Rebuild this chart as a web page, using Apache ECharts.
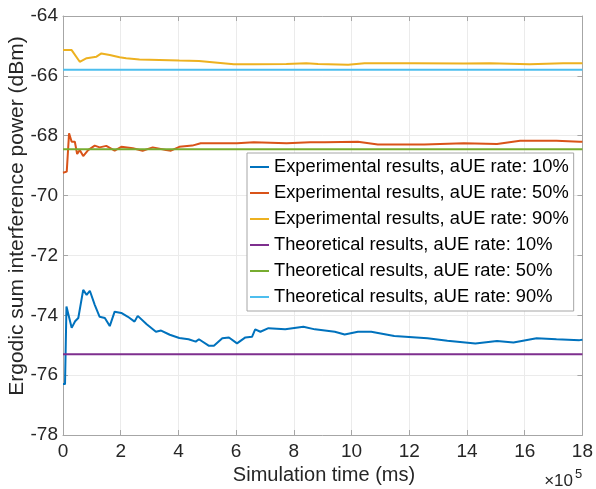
<!DOCTYPE html>
<html>
<head>
<meta charset="utf-8">
<script src="https://cdn.jsdelivr.net/npm/echarts@6/dist/echarts.min.js"></script>
<style>
  html, body { margin: 0; padding: 0; background: #fff; }
  #chart { width: 596px; height: 489px; }
</style>
</head>
<body>
<div id="chart"></div>
<script>
// Simulation time in units of 1e5 ms, power in dBm
const expTime10 = [0, 0.07, 0.12, 0.30, 0.42, 0.53, 0.70, 0.82, 0.93, 1.10, 1.27, 1.45, 1.62, 1.79, 2.02, 2.25, 2.48, 2.59, 2.90, 3.22, 3.40, 3.70, 4.03, 4.35, 4.60, 4.71, 5.06, 5.23, 5.52, 5.75, 6.03, 6.32, 6.55, 6.66, 6.84, 7.12, 7.70, 8.33, 8.73, 9.42, 9.76, 10.22, 10.68, 11.48, 12.63, 13.32, 14.29, 15.04, 15.61, 16.41, 17.10, 17.90, 18];
const expPower10 = [-76.30, -76.30, -73.71, -74.42, -74.20, -74.09, -73.15, -73.32, -73.18, -73.65, -74.05, -74.09, -74.36, -73.88, -73.92, -74.05, -74.21, -74.02, -74.30, -74.55, -74.51, -74.65, -74.76, -74.80, -74.88, -74.80, -75.02, -75.02, -74.77, -74.74, -74.94, -74.74, -74.72, -74.47, -74.55, -74.43, -74.47, -74.38, -74.47, -74.55, -74.64, -74.55, -74.55, -74.69, -74.77, -74.85, -74.94, -74.86, -74.91, -74.77, -74.80, -74.83, -74.82];

const expTime50 = [0, 0.13, 0.21, 0.30, 0.41, 0.49, 0.58, 0.70, 0.87, 1.10, 1.27, 1.50, 1.79, 2.02, 2.42, 2.76, 3.11, 3.57, 3.74, 4.03, 4.48, 4.77, 6.03, 6.61, 7.75, 8.56, 9.07, 10.22, 10.91, 12.52, 13.89, 15.04, 15.84, 17.10, 17.90, 18];
const expPower50 = [-69.24, -69.20, -67.92, -68.20, -68.20, -68.61, -68.48, -68.68, -68.48, -68.33, -68.39, -68.34, -68.50, -68.37, -68.42, -68.50, -68.39, -68.48, -68.50, -68.37, -68.33, -68.25, -68.25, -68.22, -68.25, -68.22, -68.22, -68.20, -68.29, -68.29, -68.25, -68.28, -68.17, -68.17, -68.20, -68.20];

const expTime90 = [0, 0.30, 0.58, 0.82, 1.16, 1.33, 1.62, 1.96, 2.19, 2.65, 3.34, 4.03, 4.71, 5.92, 6.61, 7.74, 8.43, 8.84, 9.88, 10.45, 12.17, 13.89, 14.80, 16.17, 17.33, 17.89, 18];
const expPower90 = [-65.14, -65.14, -65.53, -65.41, -65.36, -65.25, -65.30, -65.38, -65.41, -65.45, -65.47, -65.49, -65.50, -65.61, -65.61, -65.60, -65.58, -65.60, -65.63, -65.58, -65.58, -65.59, -65.58, -65.61, -65.58, -65.58, -65.58];

const theoryTime = [0, 18];
const theoryPower10 = -75.3;
const theoryPower50 = -68.45;
const theoryPower90 = -65.8;

const seriesNames = [
  'Experimental results, aUE rate: 10%',
  'Experimental results, aUE rate: 50%',
  'Experimental results, aUE rate: 90%',
  'Theoretical results, aUE rate: 10%',
  'Theoretical results, aUE rate: 50%',
  'Theoretical results, aUE rate: 90%'
];
const seriesColors = ['#0072BD', '#D95319', '#EDB120', '#7E2F8E', '#77AC30', '#4DBEEE'];

const xTicks = { min: 0, max: 18, step: 2 };
const yTicks = { min: -78, max: -64, step: 2 };

const FONT = '"Liberation Sans", Arial, Helvetica, sans-serif';
const AXIS_GRAY = '#a6a6a6';
const TEXT = '#262626';

const pairs = (xs, ys) => xs.map((x, i) => [x, ys[i]]);
const flat = (xs, v) => xs.map(x => [x, v]);

const seriesData = [
  pairs(expTime10, expPower10),
  pairs(expTime50, expPower50),
  pairs(expTime90, expPower90),
  flat(theoryTime, theoryPower10),
  flat(theoryTime, theoryPower50),
  flat(theoryTime, theoryPower90)
];

const baseAxis = {
  type: 'value',
  axisLine: { show: true, onZero: false, lineStyle: { color: AXIS_GRAY, width: 1 } },
  axisTick: { show: true, inside: true, length: 5, lineStyle: { color: AXIS_GRAY } },
  splitLine: { show: false }
};

const chart = echarts.init(document.getElementById('chart'), null, { renderer: 'canvas' });

chart.setOption({
  animation: false,
  backgroundColor: '#fff',
  grid: { left: 63, right: 10, top: 16, bottom: 54, containLabel: false },
  xAxis: [
    Object.assign({}, baseAxis, {
      position: 'bottom',
      min: xTicks.min, max: xTicks.max, interval: xTicks.step,
      axisLabel: { color: TEXT, fontSize: 19, fontFamily: FONT, margin: 7 },
      splitLine: { show: true, lineStyle: { color: '#ebebeb', width: 1 } }
    }),
    Object.assign({}, baseAxis, {
      position: 'top',
      min: xTicks.min, max: xTicks.max, interval: xTicks.step,
      axisLabel: { show: false }
    })
  ],
  yAxis: [
    Object.assign({}, baseAxis, {
      position: 'left',
      min: yTicks.min, max: yTicks.max, interval: yTicks.step,
      axisLabel: { color: TEXT, fontSize: 19, fontFamily: FONT, margin: 5 },
      splitLine: { show: true, lineStyle: { color: '#ebebeb', width: 1 } }
    }),
    Object.assign({}, baseAxis, {
      position: 'right',
      min: yTicks.min, max: yTicks.max, interval: yTicks.step,
      axisLabel: { show: false }
    })
  ],
  legend: {
    orient: 'vertical',
    left: 247,
    top: 153,
    padding: [5, 5, 5, 3],
    itemWidth: 19,
    itemHeight: 2,
    itemGap: 8,
    icon: 'rect',
    backgroundColor: '#fff',
    borderColor: AXIS_GRAY,
    borderWidth: 1,
    borderRadius: 0,
    textStyle: { fontSize: 18.3, fontFamily: FONT, color: '#000', lineHeight: 17.5 },
    data: seriesNames
  },
  graphic: [
    {
      type: 'text', x: 324, y: 475,
      style: { text: 'Simulation time (ms)', font: '20px ' + FONT, fill: TEXT, align: 'center', verticalAlign: 'middle' }
    },
    {
      type: 'text', x: 17, y: 216, rotation: Math.PI / 2,
      style: { text: 'Ergodic sum interference power (dBm)', font: '21px ' + FONT, fill: TEXT, align: 'center', verticalAlign: 'middle' }
    },
    {
      type: 'text', x: 573, y: 481,
      style: { text: '\u00d710', font: '17px ' + FONT, fill: TEXT, align: 'right', verticalAlign: 'middle' }
    },
    {
      type: 'text', x: 575, y: 474,
      style: { text: '5', font: '13px ' + FONT, fill: TEXT, align: 'left', verticalAlign: 'middle' }
    }
  ],
  series: seriesNames.map((name, i) => ({
    name: name,
    type: 'line',
    xAxisIndex: 0,
    yAxisIndex: 0,
    data: seriesData[i],
    symbol: 'none',
    showSymbol: false,
    smooth: false,
    color: seriesColors[i],
    lineStyle: { color: seriesColors[i], width: 2 },
    emphasis: { disabled: true }
  }))
});
</script>
</body>
</html>
